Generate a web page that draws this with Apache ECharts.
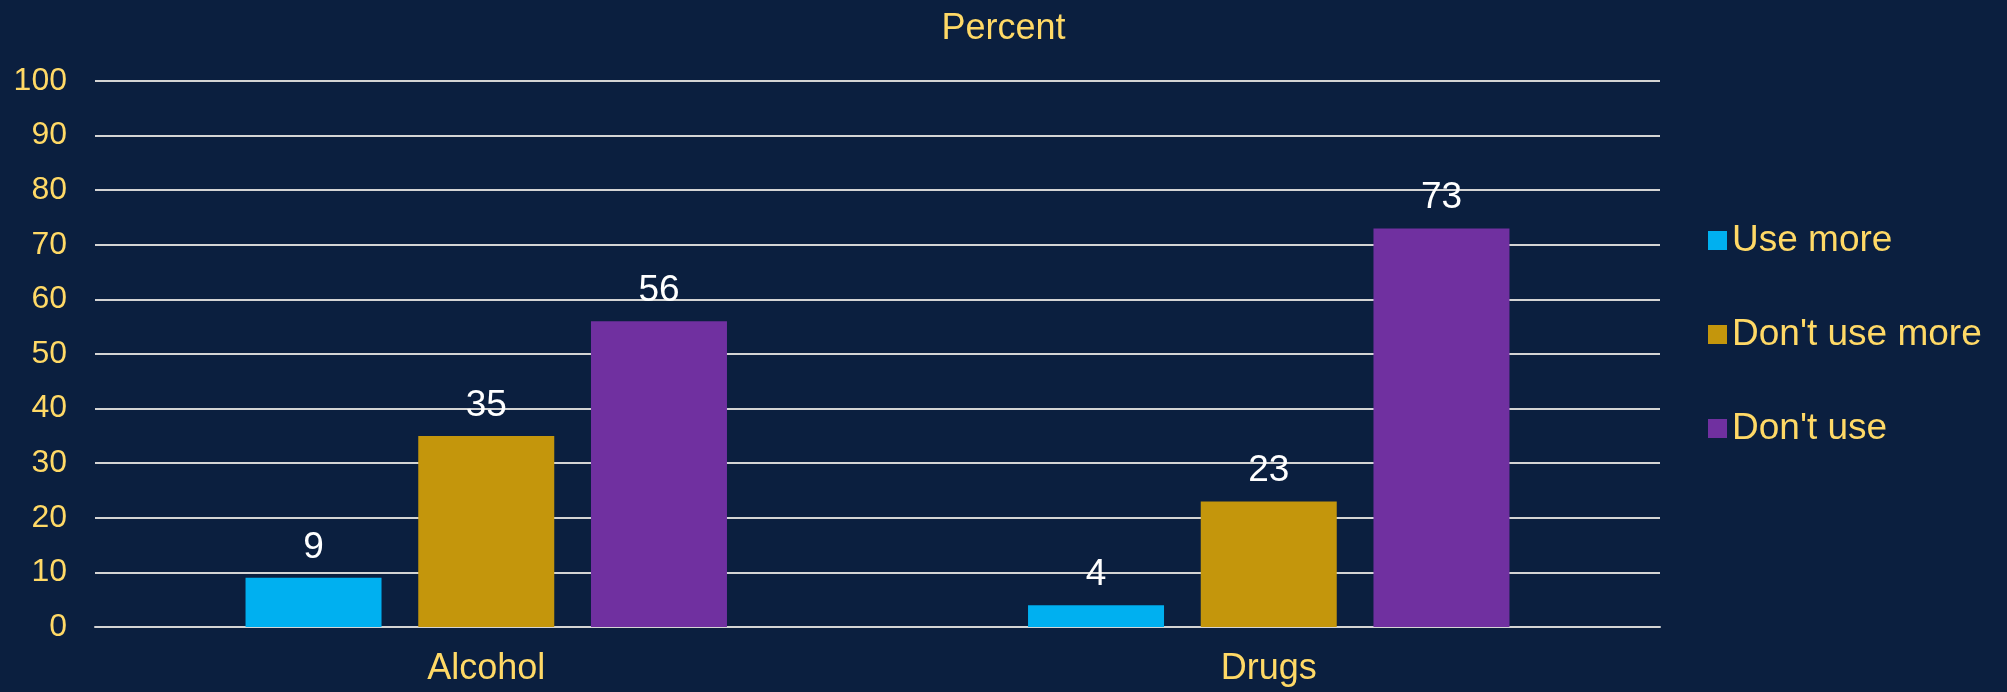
<!DOCTYPE html>
<html>
<head>
<meta charset="utf-8">
<script src="https://cdn.jsdelivr.net/npm/echarts@6/dist/echarts.min.js"></script>
<style>
html,body{margin:0;padding:0;background:#0b1f3f;}
#chart{width:2007px;height:692px;}
</style>
</head>
<body>
<div id="chart"></div>
<script>
const categories = ['Alcohol', 'Drugs'];
const seriesNames = ['Use more', "Don't use more", "Don't use"];
const useMore = [9, 4];
const dontUseMore = [35, 23];
const dontUse = [56, 73];
const yTicks = { min: 0, max: 100, interval: 10 };

const colors = ['#00b0f0', '#c4960c', '#7030a0'];
const textYellow = '#ffd966';
const font = '"Liberation Sans", Arial, sans-serif';
const valuesList = [useMore, dontUseMore, dontUse];

const chart = echarts.init(document.getElementById('chart'));
chart.setOption({
  backgroundColor: '#0b1f3f',
  animation: false,
  title: {
    text: 'Percent',
    left: 'center',
    top: 6,
    textStyle: { color: textYellow, fontSize: 36, fontWeight: 'normal', fontFamily: font }
  },
  legend: {
    orient: 'vertical',
    left: 1703,
    top: 217,
    itemWidth: 19,
    itemHeight: 19,
    itemGap: 57,
    itemStyle: { borderWidth: 0 },
    icon: 'rect',
    textStyle: { color: textYellow, fontSize: 37, fontFamily: font, padding: [0,0,0,0] },
    data: seriesNames
  },
  grid: { left: 95, right: 347, top: 81, bottom: 65, outerBoundsMode: 'none' },
  xAxis: {
    type: 'category',
    data: categories,
    axisTick: { show: false },
    axisLine: { lineStyle: { color: '#d4d4d4', width: 2 } },
    axisLabel: { color: textYellow, fontSize: 36, fontFamily: font, margin: 24 }
  },
  yAxis: {
    type: 'value',
    min: yTicks.min,
    max: yTicks.max,
    interval: yTicks.interval,
    axisLine: { show: false },
    axisTick: { show: false },
    splitLine: { lineStyle: { color: '#d4d4d4', width: 2 } },
    axisLabel: { color: textYellow, fontSize: 32, fontFamily: font, margin: 28 }
  },
  series: seriesNames.map((name, i) => ({
    name: name,
    type: 'bar',
    data: valuesList[i],
    barWidth: 136,
    barGap: '27%',
    itemStyle: { color: colors[i] },
    label: {
      show: true,
      position: 'top',
      distance: 12,
      color: '#ffffff',
      fontSize: 37,
      fontFamily: font
    }
  }))
});
</script>
</body>
</html>
